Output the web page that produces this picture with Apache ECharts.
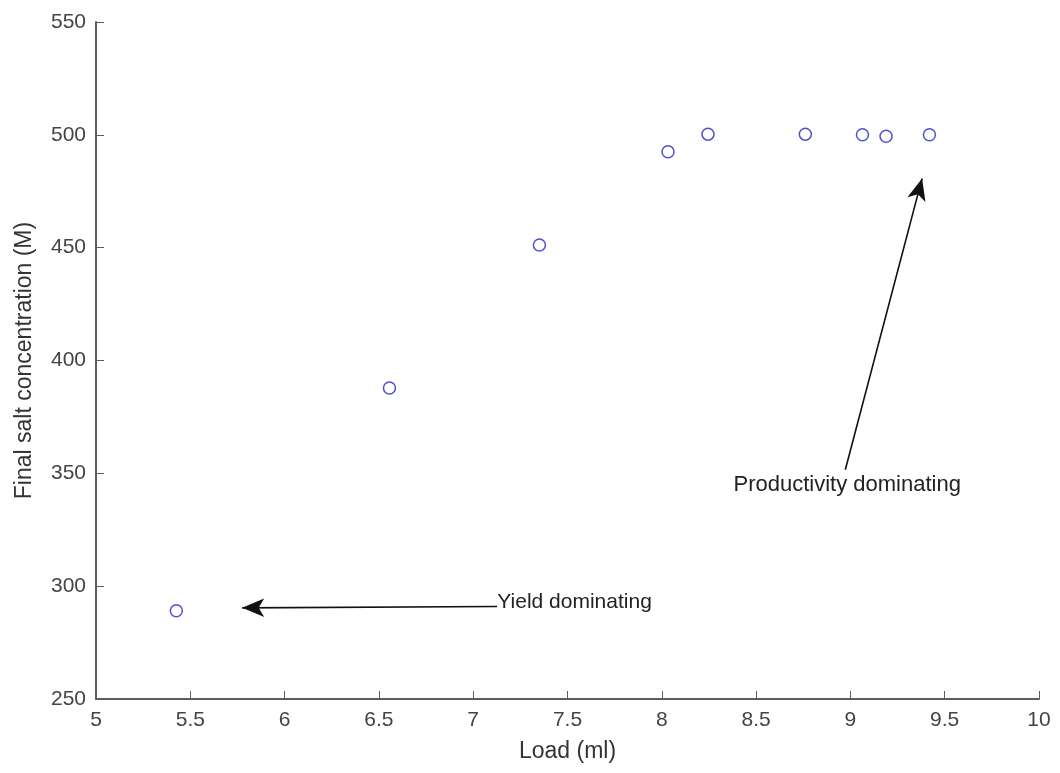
<!DOCTYPE html>
<html>
<head>
<meta charset="utf-8">
<script src="https://cdn.jsdelivr.net/npm/echarts@6/dist/echarts.min.js"></script>
<style>
  html, body { margin: 0; padding: 0; background: #fff; }
  #main { width: 1060px; height: 773px; }
</style>
</head>
<body>
<div id="main"></div>
<script>
// load (ml) vs final salt concentration
var loadMl = [5.426, 6.556, 7.351, 8.033, 8.245, 8.761, 9.064, 9.189, 9.419];
var saltConc = [289.1, 387.8, 451.2, 492.5, 500.3, 500.3, 500.0, 499.4, 500.0];

// annotations, in data units
var yieldArrow = [[7.127, 291.0], [5.775, 290.4]];
var prodArrow = [[8.973, 351.6], [9.380, 480.7]];
var yieldText = 'Yield dominating';
var yieldTextAt = [7.128, 292.7];
var prodText = 'Productivity dominating';
var prodTextAt = [8.380, 344.9];

var points = [];
for (var i = 0; i < loadMl.length; i++) {
    points.push([loadMl[i], saltConc[i]]);
}

var axisColor = '#5e5e5e';
var font = 'Liberation Sans, Arial, sans-serif';

var myChart = echarts.init(document.getElementById('main'));
myChart.setOption({
    animation: false,
    grid: {
        left: 96,
        right: 21,
        top: 22,
        bottom: 74
    },
    xAxis: {
        type: 'value',
        min: 5,
        max: 10,
        interval: 0.5,
        name: 'Load (ml)',
        nameLocation: 'middle',
        nameGap: 41,
        nameMoveOverlap: false,
        nameTextStyle: { color: '#333', fontSize: 23, fontFamily: font },
        splitLine: { show: false },
        axisLine: { lineStyle: { color: axisColor, width: 2 } },
        axisTick: { inside: true, length: 8, lineStyle: { color: axisColor, width: 1 } },
        axisLabel: { color: '#444', fontSize: 21, fontFamily: font, margin: 11 }
    },
    yAxis: {
        type: 'value',
        min: 250,
        max: 550,
        interval: 50,
        name: 'Final salt concentration (M)',
        nameLocation: 'middle',
        nameGap: 60,
        nameTextStyle: { color: '#333', fontSize: 23, fontFamily: font },
        splitLine: { show: false },
        axisLine: { show: true, lineStyle: { color: axisColor, width: 2 } },
        axisTick: { show: true, inside: true, length: 8, lineStyle: { color: axisColor, width: 1 } },
        axisLabel: { color: '#444', fontSize: 21, fontFamily: font, margin: 10 }
    },
    series: [{
        type: 'scatter',
        data: points,
        symbol: 'circle',
        symbolSize: 12,
        itemStyle: {
            color: '#fff',
            borderColor: '#2626c4',
            borderWidth: 1.5
        },
        markLine: {
            silent: true,
            symbol: ['none', 'arrow'],
            symbolSize: [14, 22],
            label: { show: false },
            lineStyle: { color: '#111', width: 1.6, type: 'solid' },
            data: [
                [{ coord: yieldArrow[0] }, { coord: yieldArrow[1] }],
                [{ coord: prodArrow[0] }, { coord: prodArrow[1] }]
            ]
        }
    }]
});

var p1 = myChart.convertToPixel({ gridIndex: 0 }, yieldTextAt);
var p2 = myChart.convertToPixel({ gridIndex: 0 }, prodTextAt);
myChart.setOption({
    graphic: [{
        type: 'text',
        x: p1[0], y: p1[1],
        style: { text: yieldText, fill: '#222', fontSize: 21, fontFamily: font, verticalAlign: 'middle', align: 'left' }
    }, {
        type: 'text',
        x: p2[0], y: p2[1],
        style: { text: prodText, fill: '#222', fontSize: 22, fontFamily: font, verticalAlign: 'middle', align: 'left' }
    }]
});
</script>
</body>
</html>
